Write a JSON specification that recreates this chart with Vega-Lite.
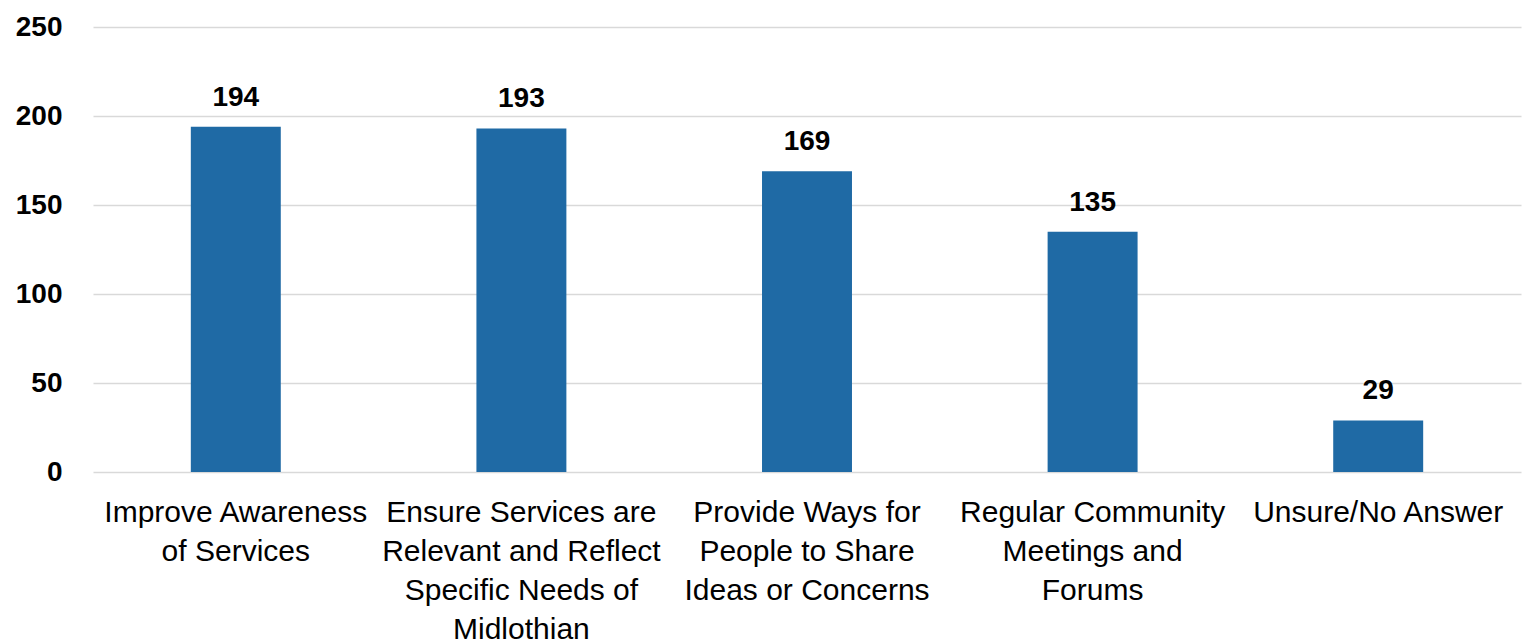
{
  "$schema": "https://vega.github.io/schema/vega-lite/v6.json",
  "autosize": {"type": "none"},
  "padding": {"left": 93, "top": 27, "right": 10, "bottom": 168},
  "width": 1428,
  "height": 445,
  "background": "white",
  "data": {"values": [
    {"cat": "Improve Awareness|of Services", "n": 194},
    {"cat": "Ensure Services are|Relevant and Reflect|Specific Needs of|Midlothian", "n": 193},
    {"cat": "Provide Ways for|People to Share|Ideas or Concerns", "n": 169},
    {"cat": "Regular Community|Meetings and|Forums", "n": 135},
    {"cat": "Unsure/No Answer", "n": 29}
  ]},
  "config": {"view": {"stroke": null}},
  "encoding": {
    "x": {"field": "cat", "type": "nominal", "sort": null,
      "scale": {"paddingInner": 0.685, "paddingOuter": 0.3425},
      "axis": {"title": null, "labelAngle": 0, "labelExpr": "split(datum.label, '|')",
        "labelFont": "Liberation Sans", "labelFontSize": 30, "labelColor": "#000000",
        "labelLineHeight": 39, "labelPadding": 25, "labelLimit": 0, "ticks": false,
        "domain": false, "labelBaseline": "top"}},
    "y": {"field": "n", "type": "quantitative",
      "scale": {"domain": [0, 250]},
      "axis": {"title": null, "values": [0, 50, 100, 150, 200, 250],
        "labelFont": "Liberation Sans", "labelFontSize": 28, "labelFontWeight": "bold",
        "labelColor": "#000000", "labelPadding": 31, "ticks": false, "domain": false,
        "gridColor": "#d9d9d9", "gridWidth": 1.5}}
  },
  "layer": [
    {"mark": {"type": "bar", "color": "#1F6AA5"}},
    {"mark": {"type": "text", "baseline": "alphabetic", "dy": -21, "font": "Liberation Sans",
      "fontSize": 28, "fontWeight": "bold", "color": "#000000"},
     "encoding": {"text": {"field": "n", "type": "quantitative"}}}
  ]
}
